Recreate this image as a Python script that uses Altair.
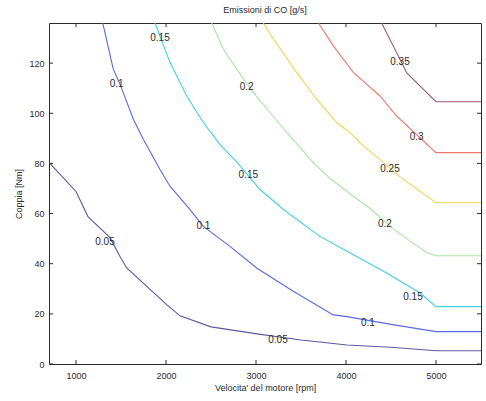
import altair as alt
import pandas as pd

# contour levels and colours
levels = ["0.05", "0.1", "0.15", "0.2", "0.25", "0.3", "0.35"]
colors = ["#5a5aa0", "#5a6ae0", "#40d0e0", "#a8e6a0", "#f2d44c", "#ea7a70", "#9a5a78"]

# contour lines (rpm, torque)
x005 = [700, 1000, 1133, 1378, 1489, 1563, 2011, 2156, 2500, 3011, 3500, 4011, 4500, 5000, 5500]
y005 = [80.4, 68.8, 58.8, 50.4, 42.9, 38.3, 23.6, 19.2, 14.8, 12.0, 9.6, 7.6, 6.7, 5.3, 5.3]

x010 = [1297, 1414, 1489, 1637, 1748, 1933, 2044, 2267, 2415, 2711, 3007, 3400, 3859, 4011, 4500, 5000, 5500]
y010 = [136, 117.6, 111.6, 97.6, 89.6, 77.6, 70.9, 61.6, 54.9, 46.9, 38.3, 29.3, 19.6, 18.9, 15.8, 12.9, 12.9]

x015 = [1878, 2044, 2230, 2415, 2600, 2785, 3044, 3267, 3378, 3711, 4081, 4452, 4822, 5000, 5500]
y015 = [136, 120.3, 106.9, 96.3, 87.5, 80.6, 69.6, 62.8, 59.6, 50.9, 43.6, 36.3, 28.3, 22.9, 22.9]

x020 = [2507, 2637, 2785, 2970, 3156, 3378, 3489, 3633, 3822, 4078, 4267, 4522, 4674, 4900, 5000, 5500]
y020 = [136, 125.6, 117.6, 108.3, 100.3, 90.9, 86.5, 80.4, 74.0, 67.0, 62.0, 54.0, 50.0, 44.4, 43.2, 43.2]

x025 = [3081, 3193, 3452, 3674, 3896, 4044, 4193, 4378, 4563, 5000, 5500]
y025 = [136, 129.6, 116.3, 105.6, 96.3, 92.3, 86.9, 81.6, 75.6, 64.3, 64.3]

x030 = [3693, 3859, 4081, 4378, 4563, 5000, 5500]
y030 = [136, 126.9, 116.3, 106.9, 98.9, 84.3, 84.3]

x035 = [4396, 4678, 5000, 5500]
y035 = [136, 116, 104.6, 104.6]

# contour labels
lab_text = ["0.05", "0.05", "0.1", "0.1", "0.1", "0.15", "0.15", "0.15", "0.2", "0.2", "0.25", "0.3", "0.35"]
lab_x = [1322, 3244, 1452, 2415, 4244, 1933, 2915, 4744, 2896, 4433, 4489, 4785, 4600]
lab_y = [48.8, 9.6, 111.6, 54.9, 16.4, 129.9, 75.2, 26.8, 110.3, 56.0, 77.6, 90.7, 120.5]

# axis ticks
xticks = [1000, 2000, 3000, 4000, 5000]
yticks = [0, 20, 40, 60, 80, 100, 120]

series = [(levels[0], x005, y005), (levels[1], x010, y010), (levels[2], x015, y015),
          (levels[3], x020, y020), (levels[4], x025, y025), (levels[5], x030, y030),
          (levels[6], x035, y035)]
rows = []
for lev, xs, ys in series:
    for i, (xv, yv) in enumerate(zip(xs, ys)):
        rows.append({"level": lev, "ord": i, "rpm": xv, "torque": yv})
df = pd.DataFrame(rows)
labels_df = pd.DataFrame({"t": lab_text, "rpm": lab_x, "torque": lab_y})
xt_df = pd.DataFrame({"rpm": xticks})
yt_df = pd.DataFrame({"torque": yticks})

W, H = 432, 341
FONT = "Liberation Sans"
TXT = "#2a2a2a"
xscale = alt.Scale(domain=[700, 5500], nice=False, zero=False)
yscale = alt.Scale(domain=[0, 136], nice=False)
axis_style = dict(ticks=False, domain=False, grid=False, format="d",
                  labelFont=FONT, labelFontSize=9, labelColor=TXT,
                  titleFont=FONT, titleFontSize=9, titleFontWeight="normal", titleColor=TXT)
xaxis = alt.Axis(values=xticks, title="Velocita' del motore [rpm]",
                 labelPadding=7, titlePadding=3, **axis_style)
yaxis = alt.Axis(values=yticks, title="Coppia [Nm]",
                 labelPadding=5, titlePadding=5, **axis_style)
X = alt.X("rpm:Q", scale=xscale, axis=xaxis)
Y = alt.Y("torque:Q", scale=yscale, axis=yaxis)

lines = alt.Chart(df).mark_line(strokeWidth=1.1, clip=True).encode(
    x=X, y=Y,
    color=alt.Color("level:N", scale=alt.Scale(domain=levels, range=colors), legend=None),
    detail="level:N",
    order="ord:Q",
)

texts = alt.Chart(labels_df).mark_text(fontSize=10, font=FONT, color=TXT).encode(
    x=X, y=Y, text="t:N",
)

tk = dict(color=TXT, strokeWidth=1)
xt_bot = alt.Chart(xt_df).mark_rule(**tk).encode(x=X, y=alt.value(H), y2=alt.value(H - 4))
xt_top = alt.Chart(xt_df).mark_rule(**tk).encode(x=X, y=alt.value(0), y2=alt.value(4))
yt_left = alt.Chart(yt_df).mark_rule(**tk).encode(y=Y, x=alt.value(0), x2=alt.value(4))
yt_right = alt.Chart(yt_df).mark_rule(**tk).encode(y=Y, x=alt.value(W - 4), x2=alt.value(W))

chart = alt.layer(lines, texts, xt_bot, xt_top, yt_left, yt_right).properties(
    width=W, height=H,
    background="white",
    title=alt.TitleParams("Emissioni di CO [g/s]", fontSize=9, font=FONT,
                          fontWeight="normal", color=TXT, offset=8),
    autosize=alt.AutoSizeParams(type="none"),
    padding={"left": 49, "top": 23, "right": 5, "bottom": 37},
).configure_view(stroke=TXT, strokeWidth=1)

chart.save("out.html", embed_options={"renderer": "svg", "actions": False})
